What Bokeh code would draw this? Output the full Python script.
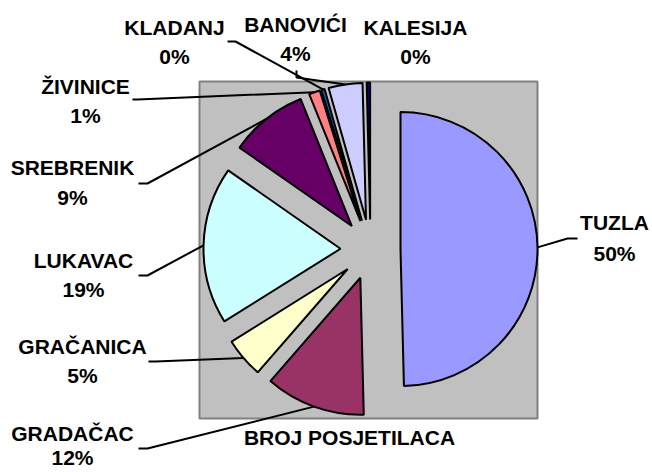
import numpy as np
from bokeh.plotting import figure
from bokeh.models import Range1d, ColumnDataSource
from bokeh.core.properties import value
from bokeh.embed import file_html
from bokeh.resources import INLINE

# ---- data ----
towns = ["TUZLA", "GRADAČAC", "GRAČANICA", "LUKAVAC", "SREBRENIK",
         "ŽIVINICE", "KLADANJ", "BANOVIĆI", "KALESIJA"]
shares = [49.6, 11.8, 4.7, 18.6, 9.2, 1.3, 0.4, 4.0, 0.4]
colors = ["#9999FF", "#993366", "#FFFFCC", "#CCFFFF", "#660066",
          "#FF8080", "#0066CC", "#CCCCFF", "#000080"]
chart_title = "BROJ POSJETILACA"

# ---- layout (screen pixel coordinates) ----
W, H = 652, 472
def Y(sy):
    return H - sy

pie_cx, pie_cy = 370, Y(249)
R = 137
explode = 30

# label centres: x, first-line y, second-line y
lab_x = [614, 72, 82, 83, 72, 85, 174, 295, 415]
lab_y1 = [222, 433, 346, 260, 167, 86, 27, 24, 27]
lab_y2 = [253, 457, 375, 289, 197, 115, 56, 53, 56]
# leader-line elbows near the labels (None = no leader)
elbows = [[(577, 238), (567, 238)],
          [(138, 448), (147, 448)],
          [(148, 361), (155, 361)],
          [(138, 275), (147, 275)],
          [(138, 183), (147, 183)],
          [(132, 99), (137, 99)],
          [(227, 41), (235, 41)],
          [(296, 70), (296, 77)],
          None]

p = figure(width=W, height=H, x_range=Range1d(0, W), y_range=Range1d(0, H),
           output_backend="svg", toolbar_location=None, min_border=0)
p.axis.visible = False
p.grid.visible = False
p.outline_line_color = None
p.background_fill_color = "white"
p.border_fill_color = "white"

# plot area
p.quad(left=199, right=537, bottom=Y(418), top=Y(81),
       fill_color="#C0C0C0", line_color="#808080", line_width=2)

vals = np.array(shares, dtype=float)
frac = vals / vals.sum()
end_deg = np.cumsum(frac) * 360.0
start_deg = end_deg - frac * 360.0
mid = np.radians((start_deg + end_deg) / 2.0)
cx = pie_cx + explode * np.sin(mid)
cy = pie_cy + explode * np.cos(mid)

src = ColumnDataSource(dict(
    x=cx, y=cy,
    start=np.radians(90.0 - end_deg),
    end=np.radians(90.0 - start_deg),
    color=colors, town=towns,
))
p.wedge(x="x", y="y", radius=R, start_angle="start", end_angle="end",
        direction="anticlock", fill_color="color", line_color="black",
        line_width=2, source=src)

# leader lines
xs, ys = [], []
for i, el in enumerate(elbows):
    if el is None:
        continue
    ax = cx[i] + R * np.sin(mid[i])
    ay = cy[i] + R * np.cos(mid[i])
    xs.append([el[0][0], el[1][0], ax])
    ys.append([Y(el[0][1]), Y(el[1][1]), ay])
p.multi_line(xs=xs, ys=ys, line_color="black", line_width=2)

# labels
pcts = [f"{int(round(f * 100))}%" for f in frac]
font = value("Liberation Sans")
p.text(x=lab_x, y=[Y(v) for v in lab_y1], text=towns, text_font=font,
       text_font_style="bold", text_font_size="21px", text_color="black",
       text_align="center", text_baseline="middle")
p.text(x=lab_x, y=[Y(v) for v in lab_y2], text=pcts, text_font=font,
       text_font_style="bold", text_font_size="21px", text_color="black",
       text_align="center", text_baseline="middle")
p.text(x=[349], y=[Y(437)], text=[chart_title], text_font=font,
       text_font_style="bold", text_font_size="21px", text_color="black",
       text_align="center", text_baseline="middle")

open("out.html", "w").write(file_html(p, INLINE))
